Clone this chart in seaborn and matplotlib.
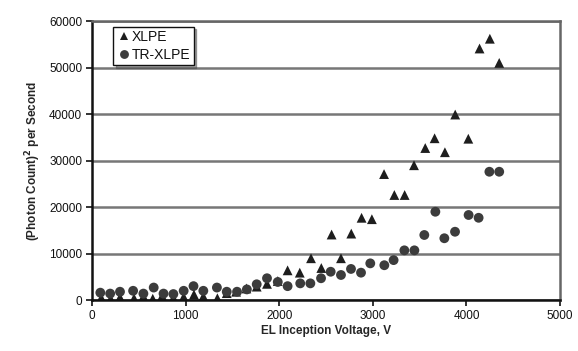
import matplotlib
matplotlib.use("Agg")
import matplotlib.pyplot as plt
import seaborn as sns
import pandas as pd

# ---- data ----
xlpe_v = [100, 200, 300, 450, 550, 650, 750, 870, 980, 1090, 1190, 1340, 1440,
          1540, 1650, 1760, 1870, 1985, 2090, 2220, 2340, 2450, 2560, 2660,
          2770, 2880, 2990, 3120, 3230, 3340, 3440, 3560, 3660, 3770, 3880,
          4020, 4140, 4250, 4350]
xlpe_y = [500, 300, 600, 400, 800, 300, 900, 500, 700, 1200, 800, 400, 1500,
          1800, 2500, 2900, 3500, 4100, 6400, 5900, 9000, 6900, 14100, 9000,
          14300, 17700, 17400, 27100, 22600, 22600, 29000, 32700, 34800, 31800,
          39900, 34700, 54100, 56200, 51000]

tr_v = [90, 195, 300, 440, 550, 660, 765, 870, 980, 1085, 1190, 1335, 1440,
        1550, 1655, 1760, 1870, 1985, 2090, 2225, 2333, 2447, 2550, 2660, 2767,
        2874, 2973, 3123, 3222, 3337, 3444, 3550, 3668, 3764, 3878, 4023, 4130,
        4245, 4350]
tr_y = [1600, 1400, 1800, 2000, 1400, 2700, 1400, 1300, 2000, 3000, 2000, 2700,
        1800, 1800, 2300, 3400, 4700, 3900, 3000, 3600, 3600, 4700, 6100, 5400,
        6700, 5900, 7900, 7500, 8600, 10700, 10700, 14000, 19000, 13300, 14700,
        18300, 17700, 27600, 27600]

series_names = ["XLPE", "TR-XLPE"]
x_ticks = [0, 1000, 2000, 3000, 4000, 5000]
y_ticks = [0, 10000, 20000, 30000, 40000, 50000, 60000]

df = pd.DataFrame({
    "Voltage": xlpe_v + tr_v,
    "Value": xlpe_y + tr_y,
    "Material": [series_names[0]] * len(xlpe_v) + [series_names[1]] * len(tr_v),
})

sns.set_theme(style="white")
plt.rcParams["font.family"] = ["Liberation Sans", "DejaVu Sans"]

fig = plt.figure(figsize=(5.78, 3.51), dpi=100)
ax = fig.add_axes([0.159, 0.145, 0.81, 0.795])

sns.scatterplot(
    data=df, x="Voltage", y="Value", hue="Material", style="Material",
    markers={"XLPE": "^", "TR-XLPE": "o"},
    palette={"XLPE": "#1e1e1e", "TR-XLPE": "#3c3c3c"},
    s=50, linewidth=0, ax=ax, legend=True,
)

ax.set_xlim(0, 5000)
ax.set_ylim(0, 60000)
ax.set_xticks(x_ticks)
ax.set_yticks(y_ticks)
ax.set_xticklabels([str(t) for t in x_ticks], fontsize=8.5)
ax.set_yticklabels([str(t) for t in y_ticks], fontsize=8.5)

ax.yaxis.grid(True, color="#777777", linewidth=1.8)
ax.xaxis.grid(False)
ax.set_axisbelow(True)

for side in ["left", "bottom"]:
    ax.spines[side].set_color("#111111")
    ax.spines[side].set_linewidth(1.8)
for side in ["top", "right"]:
    ax.spines[side].set_visible(True)
    ax.spines[side].set_color("#666666")
    ax.spines[side].set_linewidth(1.8)

ax.tick_params(axis="both", direction="out", length=4, width=1.2,
               color="#111111", pad=3, labelcolor="#111111")
ax.tick_params(axis="both", which="both", left=True, bottom=True)

ax.set_xlabel("EL Inception Voltage, V", fontsize=8.5, fontweight="bold",
              labelpad=2)
ax.set_ylabel("(Photon Count)$^\\mathbf{2}$ per Second", fontsize=8.5,
              fontweight="bold", labelpad=4)

leg = ax.legend(loc="upper left", bbox_to_anchor=(0.04, 0.99), frameon=True,
                fancybox=False, shadow=True, fontsize=10, handletextpad=0.05,
                borderpad=0.25, labelspacing=0.25, handlelength=1.0,
                borderaxespad=0.2, title=None, markerscale=0.9)
leg.get_frame().set_edgecolor("#111111")
leg.get_frame().set_linewidth(1.0)
for t in leg.get_texts():
    t.set_color("#111111")

fig.savefig("out.png", dpi=100)
